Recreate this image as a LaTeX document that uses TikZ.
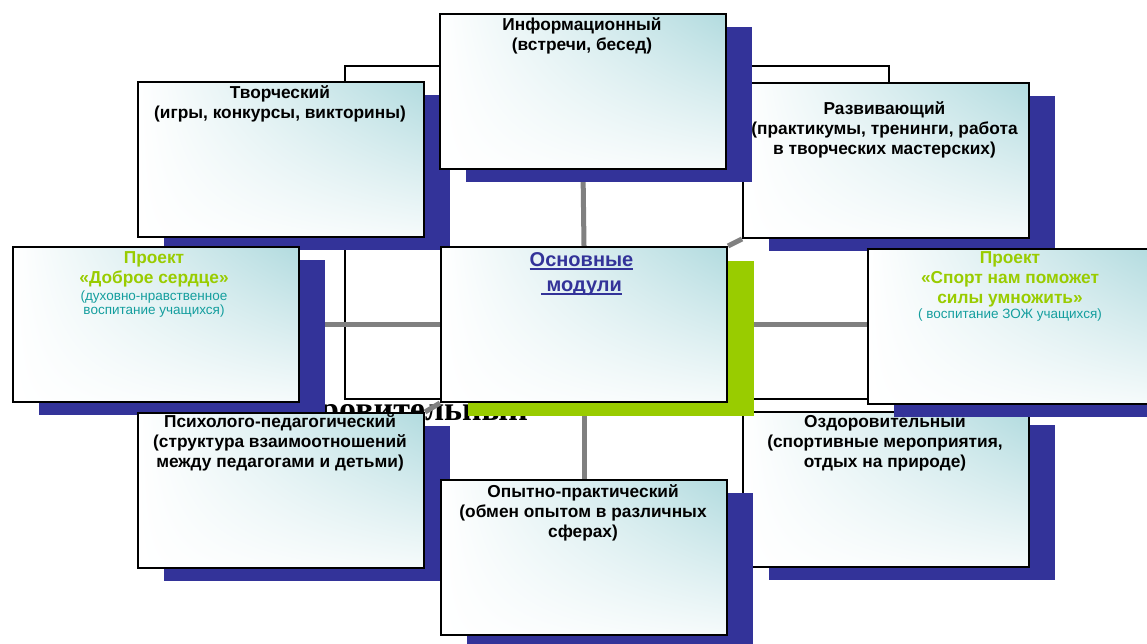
\documentclass[tikz,border=0pt]{standalone}
\usepackage{fontspec}
\setmainfont{Liberation Sans}
\newfontfamily\serifface{Liberation Serif}
\usetikzlibrary{shadings,shadows,calc}
\definecolor{shblue}{HTML}{333399}
\definecolor{shgreen}{HTML}{99CC00}
\definecolor{boxteal}{HTML}{B2DBDF}
\definecolor{notetext}{HTML}{149E9E}
\definecolor{conngray}{HTML}{808080}
\definecolor{titleblue}{HTML}{333399}
\newcommand\ulbar[1]{\setbox0\hbox{#1}\rlap{\rule[-4pt]{\wd0}{2pt}}\box0}
\pgfdeclarelayer{back}
\pgfsetlayers{back,main}
\begin{document}
\begin{tikzpicture}[x=1pt,y=-1pt,
  basebox/.style={draw=black, line width=2pt, minimum width=286pt, minimum height=155pt,
    inner sep=0pt, anchor=north west,
    upper left=white, upper right=boxteal, lower left=white, lower right=boxteal!12},
  modbox/.style={basebox, general shadow={fill=shblue, shadow xshift=26pt, shadow yshift=-13pt}},
  cenbox/.style={basebox, general shadow={fill=shgreen, shadow xshift=27pt, shadow yshift=-14pt}},
  modtext/.style={font=\fontsize{17.3}{20}\selectfont\bfseries, align=center, anchor=north, inner sep=0pt},
  projtitle/.style={modtext, text=shgreen},
  projnote/.style={font=\fontsize{13.5}{14.5}\selectfont, text=notetext, align=center, anchor=north, inner sep=0pt},
  conn/.style={draw=conngray, line width=5pt}
]
\useasboundingbox (0,0) rectangle (1147,643);

% boxes, back to front
\node[modbox] (tvor) at (137,81) {};
\node[modtext] (tvortext) at (280,84) {\strut Творческий\\(игры, конкурсы, викторины)};

\node[modbox] (razv) at (742,82) {};
\node[modtext] (razvtext) at (884.5,100) {\strut Развивающий\\(практикумы, тренинги, работа\\в творческих мастерских)};

\node[modbox] (info) at (439,13) {};
\node[modtext] (infotext) at (582,16) {\strut Информационный\\(встречи, бесед)};

\node[modbox] (ozd) at (742,411) {};
\node[modtext] (ozdtext) at (885,413) {\strut Оздоровительный\\(спортивные мероприятия,\\отдых на природе)};

\node[cenbox] (cen) at (440,246) {};
\node[modtext, font=\fontsize{20}{25}\selectfont\bfseries, text=titleblue] (centext) at (581.5,248.5)
  {\strut\ulbar{Основные}\\\ulbar{\ модули}};

\node[modbox] (lp) at (12,246) {};
\node[projtitle] (lptitle) at (154,249) {\strut Проект\\«Доброе сердце»};
\node[projnote] (lpnote) at (154,289.85) {\strut(духовно-нравственное\\воспитание учащихся)};

\node[modbox] (rp) at (867,248) {};
\node[projtitle] (rptitle) at (1010,249) {\strut Проект\\«Спорт нам поможет\\силы умножить»};
\node[projnote] (rpnote) at (1010,307.85) {\strut( воспитание ЗОЖ учащихся)};

\node[modbox] (psych) at (137,412) {};
\node[modtext] (psychtext) at (280,413) {\strut Психолого-педагогический\\(структура взаимоотношений\\между педагогами и детьми)};

\node[modbox] (opyt) at (440,479) {};
\node[modtext] (opyttext) at (583,483) {\strut Опытно-практический\\(обмен опытом в различных\\сферах)};

\begin{pgfonlayer}{back}
  \node[font=\serifface\bfseries\fontsize{34}{40}\selectfont, anchor=base east, inner sep=0pt]
    (ozdword) at (528,420) {Оздоровительный};
  \node[draw=black, line width=2pt, fill=white, minimum width=544pt, minimum height=333pt,
    inner sep=0pt, anchor=north west] (frame) at (344,65) {};
  \draw[conn] (info.south) -- (cen.north);
  \draw[conn] (cen.south) -- (cen.south |- opyt.north);
  \draw[conn] (lp.east) -- (cen.west);
  \draw[conn] (cen.east) -- (cen.east -| rp.west);
  \draw[conn] (cen.north east) -- (razv.south west);
  \draw[conn] (cen.south west) -- (psych.north east);
\end{pgfonlayer}
\end{tikzpicture}
\end{document}
